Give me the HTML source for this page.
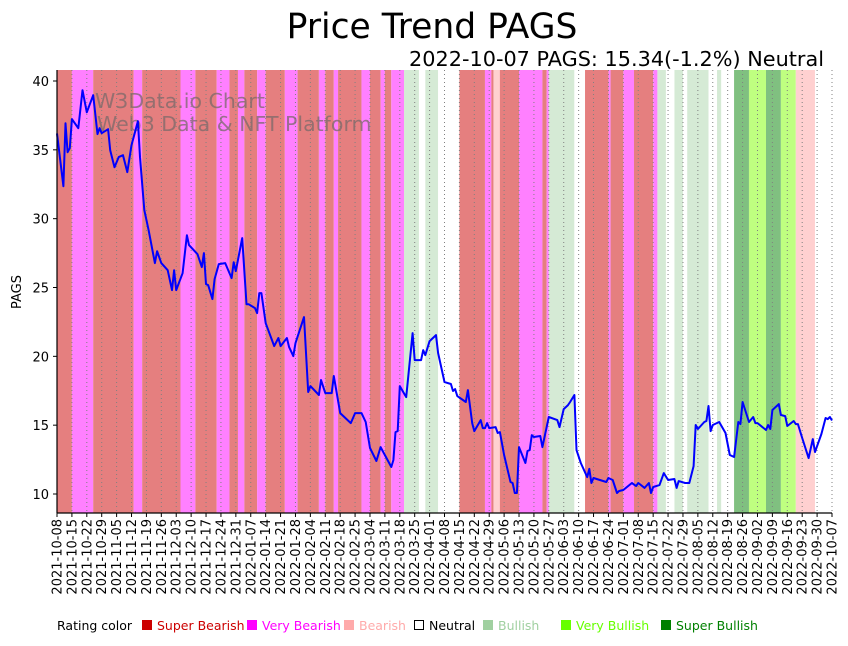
<!DOCTYPE html>
<html><head><meta charset="utf-8"><style>
body{margin:0;background:#fff;width:848px;height:641px;overflow:hidden;font-family:"Liberation Sans","DejaVu Sans",sans-serif}
</style></head><body>
<svg id="chart" width="848" height="641" xmlns="http://www.w3.org/2000/svg" font-family="DejaVu Sans, Liberation Sans, sans-serif">
<text x="432" y="38" font-size="34.5" text-anchor="middle">Price Trend PAGS</text>
<text x="824" y="66" font-size="20.8" text-anchor="end">2022-10-07 PAGS: 15.34(-1.2%) Neutral</text>
<g id="bands"></g>
<g id="grid"></g>
<text x="95" y="108" font-size="20.5" fill="#7a6a6a" fill-opacity="0.75">W3Data.io Chart</text>
<text x="97" y="131" font-size="20.5" fill="#7a6a6a" fill-opacity="0.75">Web3 Data &amp; NFT Platform</text>
<path id="line" fill="none" stroke="#0000ff" stroke-width="2" stroke-linejoin="round"/>
<g id="axes"></g>
<text transform="translate(21,292) rotate(-90)" font-size="13" text-anchor="middle">PAGS</text>
<g font-size="12.5">
<text x="57" y="630">Rating color</text>
<rect x="142" y="620" width="10" height="10" fill="#cc0000"/>
<text x="157" y="630" fill="#cc0000">Super Bearish</text>
<rect x="247" y="620" width="10" height="10" fill="#ff00ff"/>
<text x="262" y="630" fill="#ff00ff">Very Bearish</text>
<rect x="344" y="620" width="10" height="10" fill="#ffaaaa"/>
<text x="359" y="630" fill="#ffaaaa">Bearish</text>
<rect x="414.5" y="620.5" width="9" height="9" fill="#fff" stroke="#000"/>
<text x="429" y="630">Neutral</text>
<rect x="483" y="620" width="10" height="10" fill="#a0d0a0"/>
<text x="498" y="630" fill="#a0d0a0">Bullish</text>
<rect x="561" y="620" width="10" height="10" fill="#66ff00"/>
<text x="576" y="630" fill="#66ff00">Very Bullish</text>
<rect x="661" y="620" width="10" height="10" fill="#008000"/>
<text x="676" y="630" fill="#008000">Super Bullish</text>
</g>
</svg>
<script>
const dayOffsets=[0,3,4,5,6,7,10,12,14,17,19,20,21,24,25,27,29,31,33,35,38,39,41,43,46,47,49,52,54,55,56,59,61,62,66,68,69,70,71,73,74,76,79,82,83,84,87,89,90,93,94,95,96,98,102,104,105,108,109,111,112,116,118,119,123,124,126,129,130,133,138,140,143,145,147,150,152,155,157,158,159,160,161,164,167,168,171,172,173,175,178,179,182,185,186,187,188,192,193,195,196,199,200,201,202,203,206,207,208,210,213,214,215,216,217,220,221,222,223,224,227,228,231,235,236,238,240,241,243,244,246,249,250,251,252,258,259,261,263,264,266,270,272,273,276,278,279,280,283,285,287,290,291,292,295,297,299,300,301,304,305,306,307,308,311,314,316,318,320,321,322,325,327,328,329,333,334,335,336,339,340,342,343,346,347,348,350,353,355,356,359,361,362,363,364];
const prices=[36.19,32.36,36.93,34.83,35.12,37.23,36.57,39.33,37.73,38.97,36.14,36.57,36.21,36.5,34.97,33.74,34.47,34.61,33.38,35.34,37.08,34.47,30.62,29.17,26.77,27.64,26.77,26.26,24.81,26.26,24.81,26.04,28.8,28.08,27.42,26.48,27.5,25.25,25.17,24.16,25.61,26.7,26.77,25.68,26.84,26.19,28.59,23.79,23.79,23.5,23.14,24.59,24.59,22.41,20.74,21.33,20.74,21.33,20.67,20.02,20.96,22.85,17.41,17.84,17.19,18.28,17.33,17.33,18.57,15.88,15.15,15.88,15.88,15.23,13.34,12.4,13.41,12.54,11.96,12.47,14.5,14.57,17.84,17.04,21.69,19.73,19.73,20.45,20.09,21.11,21.54,20.24,18.13,17.99,17.48,17.62,17.11,16.68,17.55,15.15,14.57,15.37,14.79,14.79,15.15,14.79,14.86,14.43,14.5,12.83,10.87,10.8,10.07,10.07,13.41,12.25,13.12,13.19,14.28,14.14,14.21,13.41,15.59,15.37,14.86,16.17,16.46,16.68,17.19,13.19,12.25,11.23,11.82,10.8,11.16,10.87,11.16,11.02,10.07,10.22,10.29,10.8,10.58,10.8,10.44,10.8,10.07,10.51,10.65,11.52,11.02,11.09,10.44,10.94,10.8,10.8,12.03,15.01,14.72,15.23,15.3,16.39,14.57,15.01,15.23,14.43,12.83,12.69,15.23,15.08,16.68,15.23,15.59,15.15,15.15,14.65,15.01,14.72,16.1,16.53,15.74,15.66,14.94,15.3,15.08,15.08,14.07,12.61,13.99,13.05,14.36,15.52,15.44,15.59,15.34];
const bandStarts=[0,7,17,36,40,58,65,75,81,85,88,94,98,107,113,123,126,130,132,143,147,152,154,157,163,170,173,179,189,201,204,205,208,217,228,230,231,243,248,259,260,266,271,280,282,286,290,294,296,306,310,312,318,325,333,340,347,356];
const bandRatings=["sb","vb","sb","vb","sb","vb","sb","vb","sb","vb","sb","vb","sb","vb","sb","vb","sb","vb","sb","vb","sb","vb","sb","vb","bu","n","bu","n","sb","vb","sb","b","sb","vb","sb","vb","bu","n","sb","vb","sb","vb","sb","vb","bu","n","bu","n","bu","n","bu","n","sbu","vbu","sbu","vbu","b","n"];
const yTicks=[10,15,20,25,30,35,40];
const startDate="2021-10-08";
const totalDays=364;

const X0=57,X1=832,Y0=70,Y1=513;
const bandColors={sb:"#e57f7f",vb:"#ff80ff",b:"#ffd0d0",n:"#ffffff",bu:"#d5ead5",vbu:"#bfff80",sbu:"#80c080"};
const xs=d=>X0+d*(X1-X0)/totalDays;
const ys=v=>494-(v-10)*(494-81)/30;
const NS="http://www.w3.org/2000/svg";
function mk(tag,attrs,parent){const e=document.createElementNS(NS,tag);for(const k in attrs)e.setAttribute(k,attrs[k]);parent.appendChild(e);return e;}
const bands=document.getElementById('bands');
for(let i=0;i<bandStarts.length;i++){
  const s=bandStarts[i],e=i+1<bandStarts.length?bandStarts[i+1]:totalDays+1;
  const r=mk('rect',{x:xs(s),y:Y0,width:Math.max(0,xs(Math.min(e,totalDays))-xs(s)),height:Y1-Y0,fill:bandColors[bandRatings[i]]},bands);
  
  
}
const grid=document.getElementById('grid'),axes=document.getElementById('axes');
const base=new Date(startDate+"T00:00:00Z");
for(let d=0;d<=totalDays;d+=7){
  const x=xs(d);
  const g=mk('line',{x1:x,x2:x,y1:Y0,y2:Y1,stroke:"#808080",'stroke-width':1,'stroke-dasharray':"1,3"},grid);
  
  
  mk('line',{x1:x,x2:x,y1:Y1,y2:Y1+4,stroke:"#000"},axes);
  const dt=new Date(base.getTime()+d*86400000).toISOString().slice(0,10);
  const t=mk('text',{transform:`translate(${x+4.5},${Y1+6}) rotate(-90)`,'font-size':13,'text-anchor':'end'},axes);
  t.textContent=dt;
  
  
}
yTicks.forEach(v=>{
  const y=ys(v);
  mk('line',{x1:X0-4,x2:X0,y1:y,y2:y,stroke:"#000"},axes);
  const t=mk('text',{x:X0-8,y:y+5,'font-size':13,'text-anchor':'end'},axes);
  t.textContent=v;
  
  
});
mk('line',{x1:X0,x2:X0,y1:Y0,y2:Y1,stroke:"#000",'stroke-width':1.2},axes);
mk('line',{x1:X0,x2:X1,y1:Y1,y2:Y1,stroke:"#000",'stroke-width':1.2},axes);
document.getElementById('line').setAttribute('d',dayOffsets.map((d,i)=>(i?'L':'M')+xs(d).toFixed(1)+','+ys(prices[i]).toFixed(1)).join(''));
</script>
</body></html>
